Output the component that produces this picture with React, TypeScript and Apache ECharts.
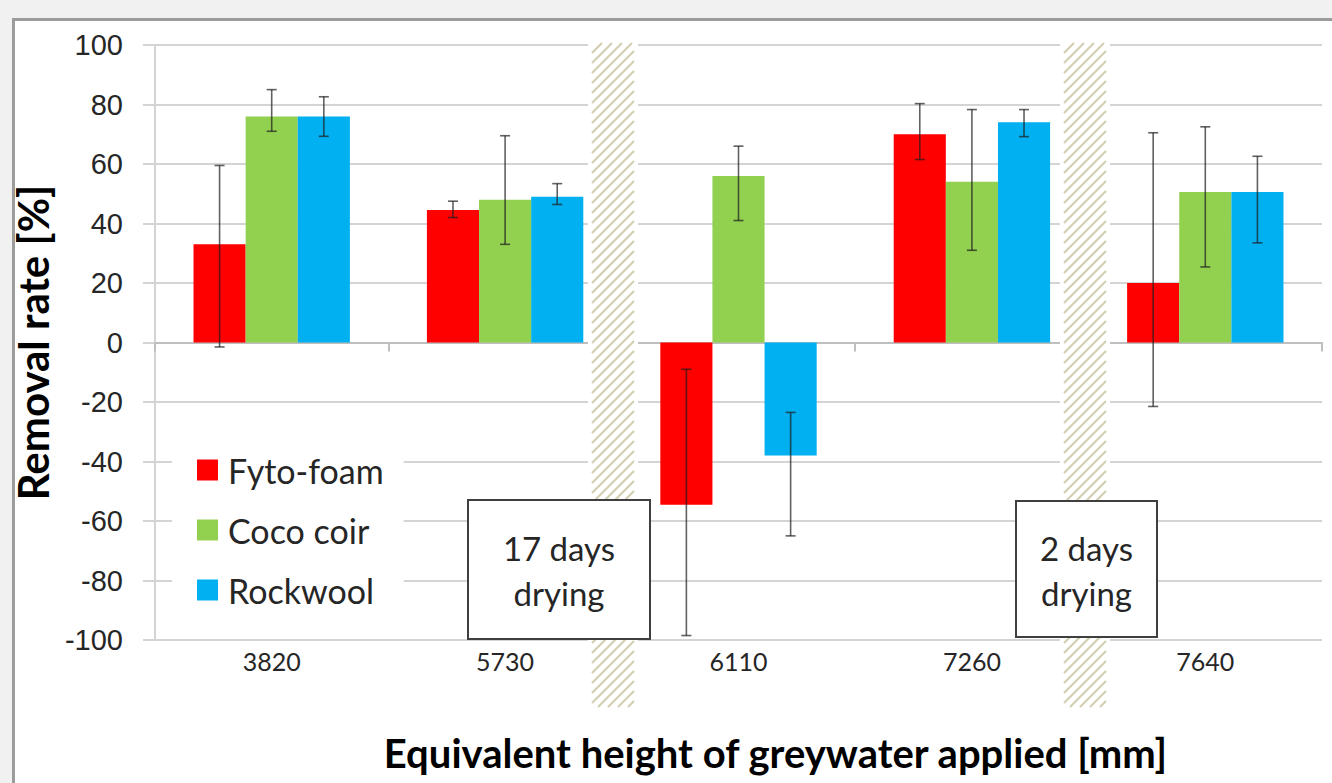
import React, { useEffect, useRef } from "react";
import * as echarts from "echarts";

const categories = ["3820", "5730", "6110", "7260", "7640"];
const seriesNames = ["Fyto-foam", "Coco coir", "Rockwool"];
const seriesColors = ["#ff0000", "#92d050", "#00b0f0"];

const fytoFoam = [33, 44.5, -54.5, 70, 20];
const cocoCoir = [76, 48, 56, 54, 50.6];
const rockwool = [76, 49, -38, 74, 50.6];

const fytoFoamErrLow = [-1.5, 42, -98.5, 61.5, -21.5];
const fytoFoamErrHigh = [59.5, 47.5, -9, 80.3, 70.5];
const cocoCoirErrLow = [71, 33, 41, 31, 25.4];
const cocoCoirErrHigh = [85, 69.5, 66, 78.3, 72.5];
const rockwoolErrLow = [69.3, 46.4, -65, 69.2, 33.5];
const rockwoolErrHigh = [82.6, 53.4, -23.5, 78.3, 62.6];

const yMin = -100;
const yMax = 100;
const yInterval = 20;

const annotationTexts = ["17 days\ndrying", "2 days\ndrying"];

const values = [fytoFoam, cocoCoir, rockwool];
const errLows = [fytoFoamErrLow, cocoCoirErrLow, rockwoolErrLow];
const errHighs = [fytoFoamErrHigh, cocoCoirErrHigh, rockwoolErrHigh];

const BAR_CAT_GAP = 0.33;

function hatchLines(x0: number, x1: number, y0: number, y1: number, step: number) {
  const out: any[] = [];
  for (let c = x0 + y0; c <= x1 + y1; c += step) {
    const xa = Math.max(x0, c - y1);
    const xb = Math.min(x1, c - y0);
    if (xb <= xa) continue;
    out.push({
      type: "line",
      z: 10,
      silent: true,
      shape: { x1: xa, y1: c - xa, x2: xb, y2: c - xb },
      style: { stroke: "#d3cfb3", lineWidth: 2.2 },
    });
  }
  return out;
}

function hatchBlock(x0: number, x1: number) {
  return [
    {
      type: "rect",
      z: 9,
      silent: true,
      shape: { x: x0 - 4, y: 40, width: x1 - x0 + 8, height: 670 },
      style: { fill: "#ffffff" },
    },
    ...hatchLines(x0, x1, 43, 707, 10),
  ];
}

function textBox(x: number, y: number, w: number, h: number, text: string) {
  return [
    {
      type: "rect",
      z: 20,
      shape: { x, y, width: w, height: h },
      style: { fill: "#ffffff", stroke: "#3f3f3f", lineWidth: 2 },
    },
    {
      type: "text",
      z: 21,
      x: x + w / 2,
      y: y + h / 2 + 1,
      style: {
        text,
        fill: "#262626",
        font: "33px Lato",
        lineHeight: 45,
        align: "center",
        verticalAlign: "middle",
      },
    },
  ];
}

export default function App() {
  const ref = useRef<HTMLDivElement>(null);

  useEffect(() => {
    if (!ref.current) return;
    const chart = echarts.init(ref.current, null, { renderer: "svg" });

    const barSeries = seriesNames.map((name, s) => ({
      name,
      type: "bar",
      xAxisIndex: 0,
      yAxisIndex: 0,
      data: values[s],
      barGap: "0%",
      barCategoryGap: BAR_CAT_GAP * 100 + "%",
      itemStyle: { color: seriesColors[s] },
      z: 2,
    }));

    const errSeries = seriesNames.map((name, s) => ({
      name: name + " error",
      type: "custom",
      xAxisIndex: 0,
      yAxisIndex: 0,
      z: 3,
      silent: true,
      encode: { x: 0, y: [1, 2] },
      data: categories.map((_, i) => [i, errLows[s][i], errHighs[s][i]]),
      renderItem: (params: any, api: any) => {
        const idx = api.value(0);
        const lo = api.coord([idx, api.value(1)]);
        const hi = api.coord([idx, api.value(2)]);
        const band = api.size([1, 0])[0];
        const bw = (band * (1 - BAR_CAT_GAP)) / 3;
        const x = lo[0] + (s - 1) * bw;
        const cap = 5;
        const st = { stroke: "rgba(30,30,30,0.7)", lineWidth: 1.6 };
        return {
          type: "group",
          children: [
            { type: "line", shape: { x1: x, y1: lo[1], x2: x, y2: hi[1] }, style: st },
            { type: "line", shape: { x1: x - cap, y1: lo[1], x2: x + cap, y2: lo[1] }, style: st },
            { type: "line", shape: { x1: x - cap, y1: hi[1], x2: x + cap, y2: hi[1] }, style: st },
          ],
        };
      },
    }));

    chart.setOption({
      animation: false,
      backgroundColor: "transparent",
      grid: {
        left: 155,
        right: 10,
        top: 45,
        bottom: 143,
        containLabel: false,
        outerBoundsMode: "none",
      },
      legend: {
        data: seriesNames.map((n) => ({ name: n, icon: "rect" })),
        orient: "vertical",
        left: 172,
        top: 445,
        itemWidth: 21,
        itemHeight: 21,
        itemGap: 20,
        backgroundColor: "#ffffff",
        padding: [5, 20, 5, 25],
        textStyle: {
          fontFamily: "Lato",
          fontSize: 34,
          color: "#262626",
          lineHeight: 40,
          padding: [0, 0, 0, 5],
        },
        selectedMode: false,
        z: 6,
      },
      xAxis: [
        {
          type: "category",
          data: categories,
          position: "bottom",
          axisLine: { show: false, onZero: false },
          axisTick: { show: false },
          axisLabel: {
            fontFamily: "Lato",
            fontSize: 25,
            color: "#262626",
            margin: 8,
          },
          splitLine: { show: false },
          name: "Equivalent height of greywater applied [mm]",
          nameLocation: "middle",
          nameGap: 93,
          nameTextStyle: {
            fontFamily: "Lato",
            fontWeight: "bold",
            fontSize: 40,
            color: "#000000",
            padding: [0, 0, 0, 74],
          },
        },
        {
          type: "category",
          data: categories,
          position: "bottom",
          axisLine: { show: true, onZero: true, lineStyle: { color: "#bfbfbf", width: 2 } },
          axisTick: { show: true, length: 9, lineStyle: { color: "#bfbfbf", width: 2 } },
          axisLabel: { show: false },
          splitLine: { show: false },
        },
      ],
      yAxis: {
        type: "value",
        min: yMin,
        max: yMax,
        interval: yInterval,
        axisLine: { show: true, lineStyle: { color: "#d4d4d4", width: 2 } },
        axisTick: { show: true, length: 12, lineStyle: { color: "#d4d4d4", width: 2 } },
        axisLabel: {
          fontFamily: "Liberation Sans",
          fontSize: 29,
          color: "#262626",
          margin: 32,
        },
        splitLine: { show: true, lineStyle: { color: "#d4d4d4", width: 2 } },
        name: "Removal rate [%]",
        nameLocation: "middle",
        nameGap: 89,
        nameTextStyle: {
          fontFamily: "Lato",
          fontWeight: "bold",
          fontSize: 42,
          color: "#000000",
        },
      },
      series: [...barSeries, ...errSeries],
      graphic: [
        ...hatchBlock(592, 634),
        ...hatchBlock(1064, 1106),
        ...textBox(468, 500, 182, 139, annotationTexts[0]),
        ...textBox(1016, 501, 141, 136, annotationTexts[1]),
      ],
    });

    return () => chart.dispose();
  }, []);

  return (
    <div
      style={{
        position: "fixed",
        left: 0,
        top: 0,
        width: 1332,
        height: 783,
        background: "#f1f1f1",
        overflow: "hidden",
      }}
    >
      <div
        style={{
          position: "absolute",
          left: 12,
          top: 18,
          width: 1340,
          height: 790,
          background: "#ffffff",
          borderLeft: "3px solid #9c9c9c",
          borderTop: "3px solid #9c9c9c",
        }}
      />
      <div
        ref={ref}
        style={{ position: "absolute", left: 0, top: 0, width: 1332, height: 783 }}
      />
    </div>
  );
}
